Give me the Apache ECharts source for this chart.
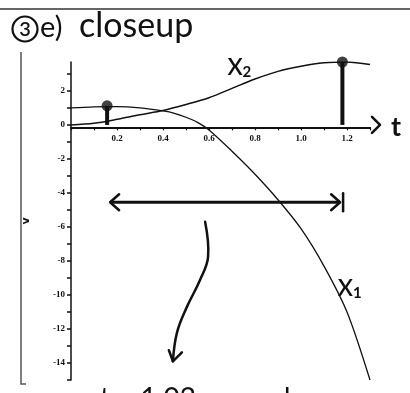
<!DOCTYPE html>
<html><head><meta charset="utf-8">
<script src="https://cdn.jsdelivr.net/npm/echarts@6/dist/echarts.min.js"></script>
<style>html,body{margin:0;padding:0;background:#fff}#c{width:410px;height:393px}</style>
</head><body><div id="c"></div><script>
const tValues  = [0, 0.1, 0.2, 0.3, 0.4, 0.45, 0.5, 0.55, 0.6, 0.7, 0.8, 0.9, 1.0, 1.1, 1.2, 1.3];
const x1Values = [1.0, 1.06, 1.07, 1.0, 0.82, 0.68, 0.45, 0.15, -0.3, -1.55, -2.9, -4.4, -6.1, -8.3, -11.0, -15.0];
const t2Values = [0, 0.1, 0.2, 0.3, 0.4, 0.5, 0.6, 0.7, 0.8, 0.9, 1.0, 1.1, 1.2, 1.3];
const x2Values = [0, 0.1, 0.33, 0.6, 0.85, 1.2, 1.6, 2.15, 2.7, 3.15, 3.45, 3.65, 3.7, 3.55];
const markT = [0.157, 1.18];
const markY = [1.12, 3.7];
const xTickLabels = ['0.2', '0.4', '0.6', '0.8', '1.0', '1.2'];
const yTickLabels = ['-14', '-12', '-10', '-8', '-6', '-4', '-2', '0', '2'];
const titleParts = ['3', 'e)', 'closeup'];
const curveLabels = ['X', '2', 'X', '1'];
const axisNameT = 't';
const axisNameY = 'v';
const bottomNote = 't ≈ 1.02 seconds';

const chart = echarts.init(document.getElementById('c'), null, {renderer: 'canvas'});
const lblFont = {fontFamily: 'Liberation Serif', fontWeight: 'bold', fontSize: 9, color: '#111'};

const series = [
  {type: 'line', data: tValues.map((t, i) => [t, x1Values[i]]), smooth: 0.3, symbol: 'none',
   lineStyle: {color: '#111', width: 1.3}},
  {type: 'line', data: t2Values.map((t, i) => [t, x2Values[i]]), smooth: 0.3, symbol: 'none',
   lineStyle: {color: '#111', width: 1.5}}
];
markT.forEach((t, i) => {
  series.push({type: 'line', data: [[t, 0], [t, markY[i]]], symbol: 'none',
    lineStyle: {color: '#111', width: 4}});
});
series.push({type: 'scatter', data: markT.map((t, i) => [t, markY[i]]), symbolSize: 11,
  itemStyle: {color: '#111'}});

const gridOpt = {left: 71, right: 40, top: 62, bottom: 13};
chart.setOption({
  animation: false,
  backgroundColor: '#fff',
  grid: gridOpt,
  xAxis: {type: 'value', min: 0, max: 1.3, interval: 0.1,
    axisLine: {onZero: false, lineStyle: {color: '#111', width: 2}},
    axisTick: {show: true, length: 3, lineStyle: {color: '#111', width: 1.2}},
    splitLine: {show: false},
    axisLabel: Object.assign({margin: 7, formatter: v => {
      const s = (Math.round(v * 10) / 10).toFixed(1);
      return xTickLabels.includes(s) ? s : '';
    }}, lblFont)
  },
  yAxis: {type: 'value', min: -15, max: 3.7, interval: 1,
    name: axisNameY, nameLocation: 'middle', nameRotate: 90, nameGap: 39,
    nameTextStyle: {fontFamily: 'DejaVu Sans', fontWeight: 'bold', fontSize: 11, color: '#111'},
    axisLine: {lineStyle: {color: '#111', width: 1.5}},
    axisTick: {show: true, length: 4, lineStyle: {color: '#111', width: 1.5}},
    splitLine: {show: false},
    axisLabel: Object.assign({margin: 6, showMaxLabel: false, formatter: v => {
      const s = String(Math.round(v));
      return yTickLabels.includes(s) ? s : '';
    }}, lblFont)
  },
  series: series
});

function P(t, y) { return chart.convertToPixel({gridIndex: 0}, [t, y]); }
// move the x axis (line + labels) up to y = 0 through the library's own scale
const zeroY = P(0, 0)[1];
const bottomY = P(0, -15)[1];
chart.setOption({xAxis: {offset: -(bottomY - zeroY)}});

const ink = {stroke: '#111', lineWidth: 2.5, fill: null, lineCap: 'round', lineJoin: 'round'};
const hand = 'Lato';

const g = [];
// frame lines
g.push({type: 'line', shape: {x1: 0, y1: 9, x2: 410, y2: 9}, style: {stroke: '#333', lineWidth: 1.5}});
g.push({type: 'polyline', shape: {points: [[21, 52], [21, 384], [26, 384]]}, style: {stroke: '#555', lineWidth: 1.5, fill: null}});
// title
g.push({type: 'circle', shape: {cx: 25, cy: 29, r: 12.5}, style: {stroke: '#111', lineWidth: 2.2, fill: null}});
g.push({type: 'text', x: 25, y: 30, style: {text: titleParts[0], font: '600 20px ' + hand, fill: '#111', align: 'center', verticalAlign: 'middle'}});
g.push({type: 'text', x: 40, y: 42, style: {text: titleParts[1], font: '400 29px ' + hand, fill: '#111', verticalAlign: 'bottom'}});
g.push({type: 'text', x: 79, y: 43, style: {text: titleParts[2], font: '400 34px ' + hand, fill: '#111', verticalAlign: 'bottom'}});
// x axis arrow and name
const aEnd = P(1.3, 0);
g.push({type: 'polyline', shape: {points: [[aEnd[0] + 2, aEnd[1] - 8], [aEnd[0] + 10, aEnd[1]], [aEnd[0] + 2, aEnd[1] + 8]]}, style: ink});
g.push({type: 'text', x: aEnd[0] + 21, y: aEnd[1] + 2, style: {text: axisNameT, font: 'bold 27px ' + hand, fill: '#111', align: 'left', verticalAlign: 'middle'}});
// curve labels
const richLbl = {a: {font: '600 23px ' + hand, fill: '#111'}, b: {font: 'bold 15px ' + hand, fill: '#111', padding: [9, 0, 0, 0]}};
const l2 = P(0.68, 3.35);
g.push({type: 'text', x: l2[0], y: l2[1], style: {text: '{a|' + curveLabels[0] + '}{b|' + curveLabels[1] + '}', verticalAlign: 'middle', rich: richLbl}});
const l1 = P(1.16, -9.6);
g.push({type: 'text', x: l1[0], y: l1[1], style: {text: '{a|' + curveLabels[2] + '}{b|' + curveLabels[3] + '}', verticalAlign: 'middle', rich: richLbl}});
// double arrow
const dA = P(0.17, -4.55), dB = P(1.17, -4.55);
g.push({type: 'line', shape: {x1: dA[0], y1: dA[1], x2: dB[0], y2: dB[1]}, style: {stroke: '#111', lineWidth: 3}});
g.push({type: 'polyline', shape: {points: [[dA[0] + 9, dA[1] - 8], [dA[0], dA[1]], [dA[0] + 9, dA[1] + 8]]}, style: ink});
g.push({type: 'polyline', shape: {points: [[dB[0] - 9, dB[1] - 8], [dB[0], dB[1]], [dB[0] - 9, dB[1] + 8]]}, style: ink});
g.push({type: 'line', shape: {x1: dB[0] + 3, y1: dB[1] - 9, x2: dB[0] + 3, y2: dB[1] + 9}, style: ink});
// curved arrow
const cPts = [[0.583, -5.7], [0.596, -7.76], [0.561, -9.12], [0.504, -10.7], [0.461, -12.2], [0.443, -13.9]].map(p => P(p[0], p[1]));
g.push({type: 'polyline', shape: {points: cPts, smooth: 0.4}, style: ink});
const tip = cPts[cPts.length - 1];
g.push({type: 'polyline', shape: {points: [[tip[0] - 4, tip[1] - 11], [tip[0], tip[1]], [tip[0] + 9, tip[1] - 9]]}, style: ink});
// bottom note (cut off at the page edge)
g.push({type: 'text', left: 100, top: 385, style: {text: bottomNote, font: '400 28px ' + hand, fill: '#111'}});

chart.setOption({graphic: g});
</script></body></html>
